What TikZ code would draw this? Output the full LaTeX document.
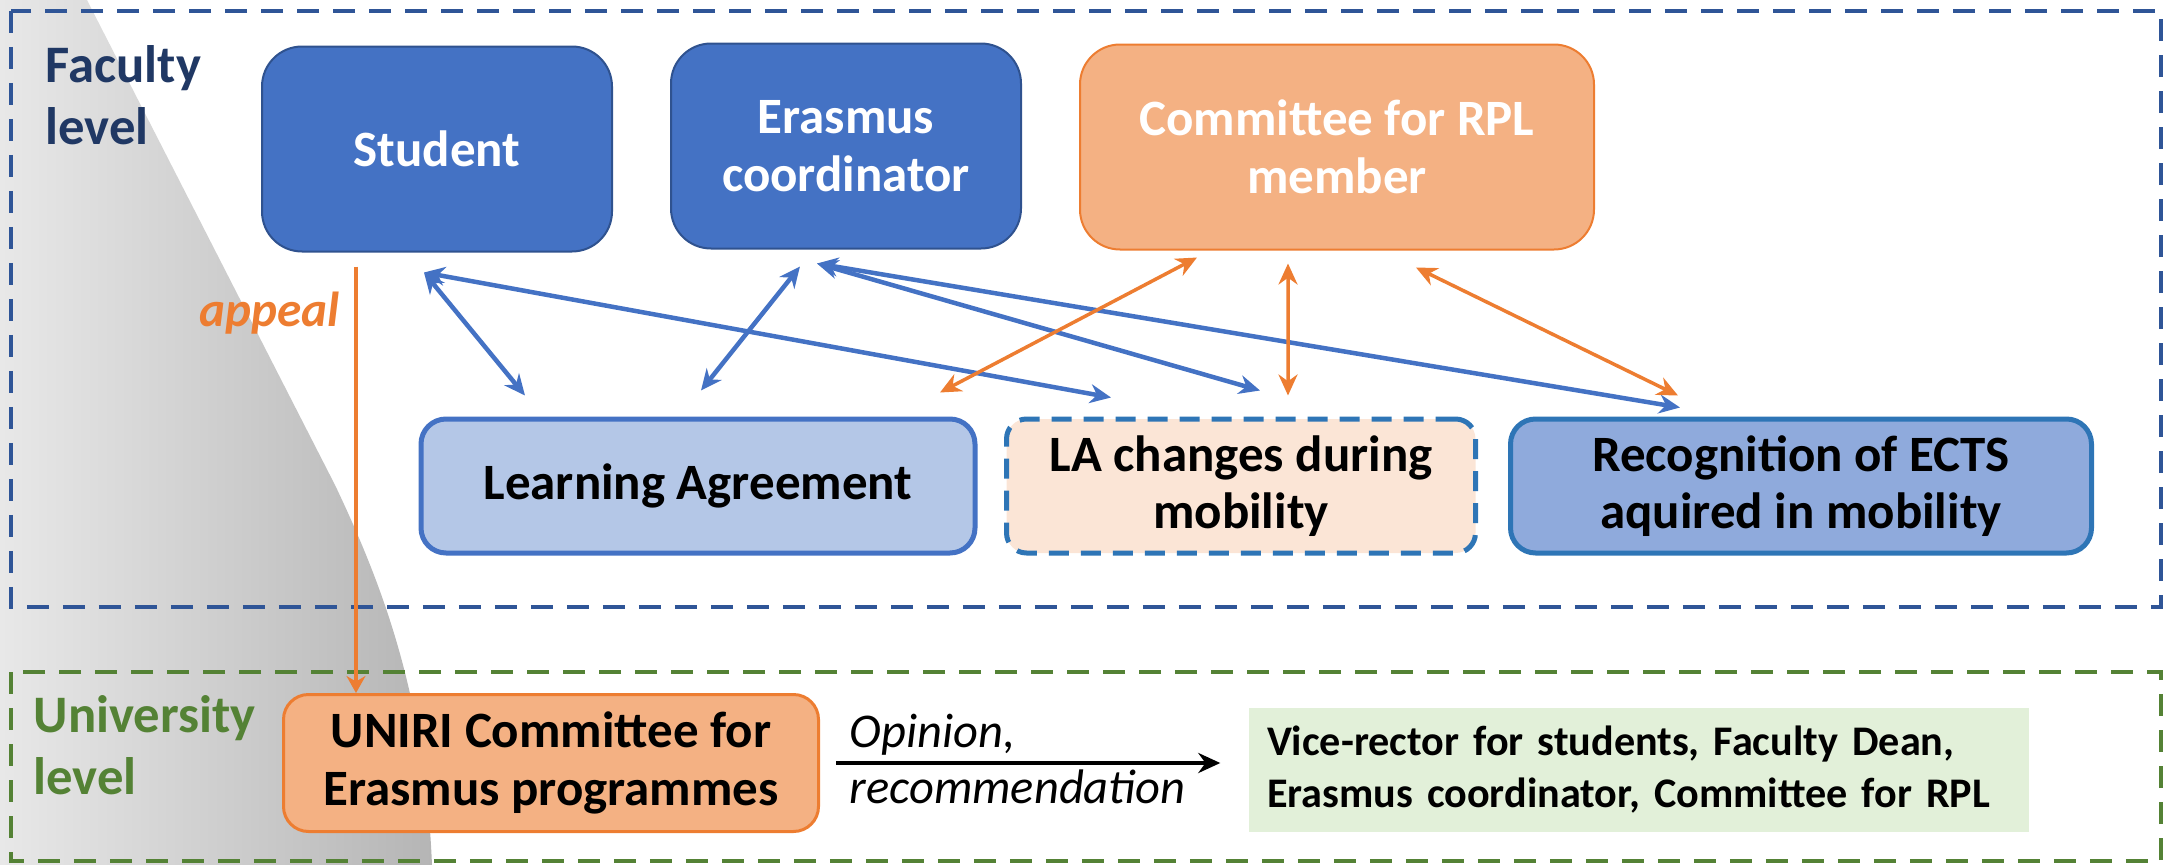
\documentclass[tikz,border=0pt]{standalone}
\usepackage{fontspec}
\setmainfont{Carlito}
\usetikzlibrary{arrows.meta}

\definecolor{navy}{HTML}{203864}
\definecolor{framegreen}{HTML}{548235}
\definecolor{frameblue}{HTML}{2F5597}
\definecolor{actorblue}{HTML}{4472C4}
\definecolor{actorline}{HTML}{2F528F}
\definecolor{rplfill}{HTML}{F4B183}
\definecolor{rplline}{HTML}{ED7D31}
\definecolor{lafill}{HTML}{B4C7E7}
\definecolor{chgfill}{HTML}{FBE5D6}
\definecolor{chgline}{HTML}{2E75B6}
\definecolor{ectsfill}{HTML}{8FAADC}
\definecolor{deanfill}{HTML}{E2F0D9}

\begin{document}
\begin{tikzpicture}[
    x=0.1mm, y=-0.1mm,
    every node/.style={font=\bfseries\fontsize{14.5}{16.4}\selectfont},
    actorbox/.style={draw, rounded corners=4mm, line width=0.2mm, align=center, text=white, minimum width=35mm, minimum height=20.5mm},
    docbox/.style={draw, rounded corners=2.5mm, line width=0.5mm, align=center, minimum height=13.4mm},
    levellabel/.style={align=left, inner sep=0pt, anchor=west, font=\bfseries\fontsize{15}{17.8}\selectfont},
    levelframe/.style={line width=0.45mm, dash pattern=on 2.2mm off 1.4mm},
    link/.style={{Stealth[length=2.1mm, width=1.9mm]}-{Stealth[length=2.1mm, width=1.9mm]}, line width=0.45mm, draw=actorblue},
    rpllink/.style={link, line width=0.35mm, draw=rplline}
]
    \useasboundingbox (0,0) rectangle (2165,865);

    % --------------------------------------------------------
    % 1. BACKGROUND AND LEVEL FRAMES
    % --------------------------------------------------------

    % grey wedge on the left
    \shade[left color=black!9, right color=black!29]
        (0,0) -- (87,0) -- (335,485) .. controls (385,590) and (425,700) .. (432,865) -- (0,865) -- cycle;

    \draw [levelframe, draw=frameblue] (11,11) rectangle (2161,607);
    \draw [levelframe, draw=framegreen] (11,672) rectangle (2161,861);

    \node (faculty) [levellabel, text=navy] at (45,95) {Faculty\\level};
    \node (university) [levellabel, text=framegreen] at (33,745) {University\\level};

    % --------------------------------------------------------
    % 2. ACTORS AND DOCUMENTS
    % --------------------------------------------------------

    % Faculty actors
    \node (student) [actorbox, fill=actorblue, draw=actorline] at (437,149) {Student};
    \node (erasmus) [actorbox, fill=actorblue, draw=actorline] at (846,146) {Erasmus\\coordinator};
    \node (rpl) [actorbox, fill=rplfill, draw=rplline, minimum width=51.4mm] at (1337,147) {Committee for RPL\\member};

    % Documents
    \node (la) [docbox, fill=lafill, draw=actorblue, minimum width=55.4mm] at (698,486) {Learning Agreement};
    \node (lachg) [docbox, fill=chgfill, draw=chgline, dash pattern=on 2mm off 1.2mm, rounded corners=2mm, minimum width=46.9mm] at (1241,486) {LA changes during\\mobility};
    \node (ects) [docbox, fill=ectsfill, draw=chgline, minimum width=58.1mm] at (1801,486) {Recognition of ECTS\\aquired in mobility};

    % University level
    \node (uniri) [docbox, fill=rplfill, draw=rplline, line width=0.3mm, minimum width=53.5mm, minimum height=13.7mm] at (551,763) {UNIRI Committee for\\Erasmus programmes};
    \node (dean) [fill=deanfill, align=left, inner sep=1.8mm, text width=74.4mm, minimum height=12.2mm, font=\bfseries\fontsize{12}{14.8}\selectfont] at (1639,770) {Vice-rector for students, Faculty Dean,\\Erasmus coordinator, Committee for RPL};

    % --------------------------------------------------------
    % 3. RELATIONSHIPS
    % --------------------------------------------------------

    % Student and Erasmus coordinator
    \draw [link] ([xshift=-1.3mm, yshift=-2mm]student.south) -- ([xshift=-17.3mm, yshift=2.1mm]la.north);
    \draw [link] ([xshift=-1.3mm, yshift=-2mm]student.south) -- ([xshift=-13mm, yshift=1.9mm]lachg.north);
    \draw [link] ([xshift=-4.6mm, yshift=-1.7mm]erasmus.south) -- ([xshift=0.3mm, yshift=2.6mm]la.north);
    \draw [link] ([xshift=-2.9mm, yshift=-1.4mm]erasmus.south) -- ([xshift=1.9mm, yshift=2.6mm]lachg.north);
    \draw [link] ([xshift=-2.9mm, yshift=-1.4mm]erasmus.south) -- ([xshift=-12.1mm, yshift=0.9mm]ects.north);

    % Committee for RPL
    \draw [rpllink] ([xshift=-14mm, yshift=-0.7mm]rpl.south) -- ([xshift=24.2mm, yshift=2.4mm]la.north);
    \draw [rpllink] ([xshift=-4.9mm, yshift=-1.3mm]rpl.south) -- ([xshift=4.7mm, yshift=2.1mm]lachg.north);
    \draw [rpllink] ([xshift=7.9mm, yshift=-1.7mm]rpl.south) -- ([xshift=-12.3mm, yshift=2.1mm]ects.north);

    % Appeal down to the university committee
    \coordinate (appealtop) at ([xshift=-8.1mm, yshift=-1.4mm]student.south);
    \draw [-{Stealth[length=1.7mm, width=1.9mm]}, line width=0.35mm, draw=rplline] (appealtop) -- (appealtop |- uniri.north)
        node [pos=0.11, left=1.5mm, inner sep=0pt, text=rplline, font=\bfseries\itshape\fontsize{14}{16}\selectfont] (appeal) {appeal};

    % Opinion to the deciding bodies
    \draw [-{Stealth[length=2.2mm, width=2mm]}, line width=0.4mm, shorten <=1.6mm, shorten >=2.8mm] (uniri.east) -- (uniri.east -| dean.west);
    \node (opinion) [anchor=base west, inner sep=0pt, font=\itshape\fontsize{13.8}{15.6}\selectfont] at (849,747) {Opinion,};
    \node (recommendation) [anchor=base west, inner sep=0pt, font=\itshape\fontsize{13.8}{15.6}\selectfont] at (849,803) {recommendation};

\end{tikzpicture}
\end{document}
